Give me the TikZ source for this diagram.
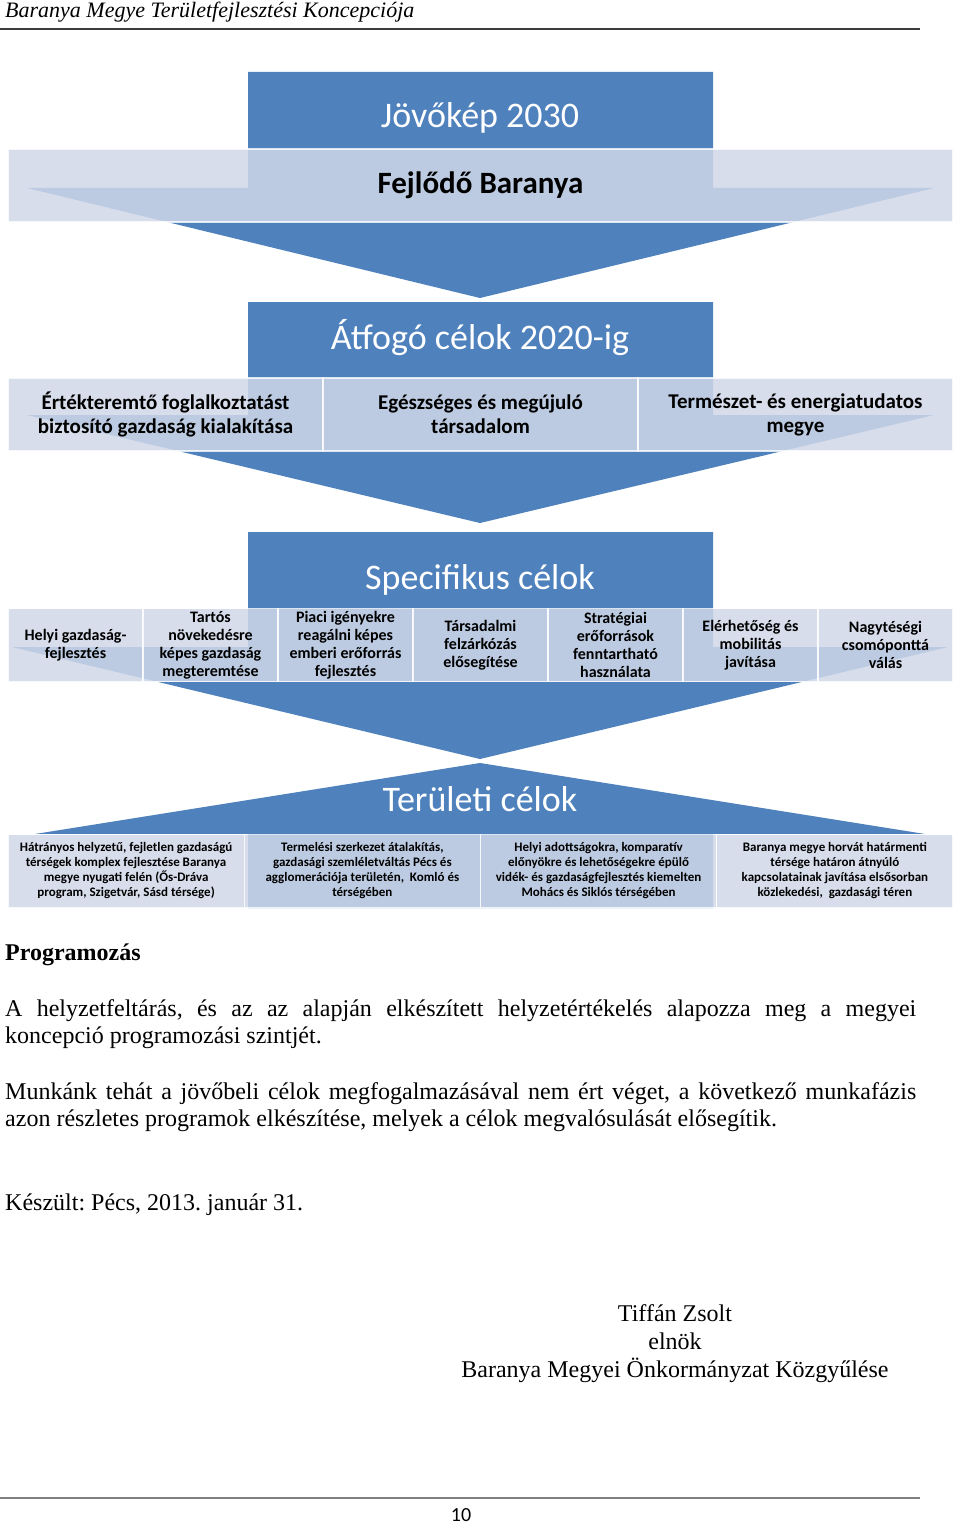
\documentclass[tikz,border=0pt]{standalone}
\usepackage{fontspec}
\setmainfont{Liberation Serif}
\newfontfamily\carl{Carlito}
\definecolor{dkblue}{RGB}{79,129,189}
\definecolor{bandc}{RGB}{208,216,232}
\definecolor{rulegray}{RGB}{60,60,60}
\frenchspacing
\begin{document}
\begin{tikzpicture}[x=1pt,y=-1pt,
  darkshape/.style={fill=dkblue,draw=none},
  cell/.style={fill=bandc,fill opacity=0.85,text opacity=1,draw=white,draw opacity=0.8,line width=1.2pt,inner sep=0pt,align=center,text=black},
  title/.style={text=white,font=\carl\fontsize{36}{40}\selectfont,inner sep=0pt},
  celltwo/.style={cell,font=\carl\bfseries\fontsize{21}{24}\selectfont},
  cellthree/.style={cell,font=\carl\bfseries\fontsize{16}{18}\selectfont,minimum width=135pt,minimum height=73pt},
  cellfour/.style={cell,font=\carl\bfseries\fontsize{13}{15}\selectfont,minimum width=236.25pt,minimum height=73pt},
  body/.style={inner sep=0pt,font=\fontsize{24}{27.5}\selectfont}
]
\useasboundingbox (0,0) rectangle (960,1525);
\fill[white] (0,0) rectangle (960,1525);

% header
\node[body,anchor=base west,font=\itshape\fontsize{22}{26}\selectfont] (hdr) at (5,18) {Baranya Megye Területfejlesztési Koncepciója};
\draw[rulegray,line width=1.3pt] (0,29) -- (920,29);

% level 1
\fill[darkshape] (248,72) -- (713,72) -- (713,188) -- (934,188) -- (480,298) -- (27,188) -- (248,188) -- cycle;
\node[title] (t1) at (480,118) {Jövőkép 2030};
\node[cell,minimum width=945pt,minimum height=73pt,font=\carl\bfseries\fontsize{31}{34}\selectfont] (b1) at (480.5,185.5) {Fejlődő Baranya};

% level 2
\fill[darkshape] (248,302) -- (713,302) -- (713,415) -- (934,415) -- (480,523) -- (27,415) -- (248,415) -- cycle;
\node[title] (t2) at (480,338) {Átfogó célok 2020-ig};
\node[celltwo,minimum width=315pt,minimum height=73pt] (c21) at (165.5,414.5) {Értékteremtő foglalkoztatást\\biztosító gazdaság kialakítása};
\node[celltwo,minimum width=315pt,minimum height=73pt] (c22) at (480.5,414.5) {Egészséges és megújuló\\társadalom};
\node[celltwo,minimum width=315pt,minimum height=73pt] (c23) at (795.5,414.5) {Természet- és energiatudatos\\megye};

% level 3
\fill[darkshape] (248,532) -- (713,532) -- (713,647) -- (948,647) -- (480,759) -- (12,647) -- (248,647) -- cycle;
\node[title] (t3) at (480,580) {Specifikus célok};
\node[cellthree] (c31) at (75.5,645) {Helyi gazdaság-\\fejlesztés};
\node[cellthree] (c32) at (210.5,645) {Tartós\\növekedésre\\képes gazdaság\\megteremtése};
\node[cellthree] (c33) at (345.5,645) {Piaci igényekre\\reagálni képes\\emberi erőforrás\\fejlesztés};
\node[cellthree] (c34) at (480.5,645) {Társadalmi\\felzárkózás\\elősegítése};
\node[cellthree] (c35) at (615.5,645) {Stratégiai\\erőforrások\\fenntartható\\használata};
\node[cellthree] (c36) at (750.5,645) {Elérhetőség és\\mobilitás\\javítása};
\node[cellthree] (c37) at (885.5,645) {Nagytéségi\\csomóponttá\\válás};

% level 4
\fill[darkshape] (480,763) -- (925,834) -- (713,834) -- (713,908) -- (248,908) -- (248,834) -- (35,834) -- cycle;
\node[title] (t4) at (480,799) {Területi célok};
\node[cellfour] (c41) at (126.1,871) {Hátrányos helyzetű, fejletlen gazdaságú\\térségek komplex fejlesztése Baranya\\megye nyugati felén (Ős-Dráva\\program, Szigetvár, Sásd térsége)};
\node[cellfour] (c42) at (362.4,871) {Termelési szerkezet átalakítás,\\gazdasági szemléletváltás Pécs és\\agglomerációja területén,~ Komló és\\térségében};
\node[cellfour] (c43) at (598.6,871) {Helyi adottságokra, komparatív\\előnyökre és lehetőségekre épülő\\vidék- és gazdaságfejlesztés kiemelten\\Mohács és Siklós térségében};
\node[cellfour] (c44) at (834.9,871) {Baranya megye horvát határmenti\\térsége határon átnyúló\\kapcsolatainak javítása elsősorban\\közlekedési,~ gazdasági téren};

% body text
\node[body,anchor=base west,font=\bfseries\fontsize{24}{27.5}\selectfont] (prog) at (5,960) {Programozás};
\node[body,anchor=base west,text width=911pt,align=justify] (p1) at (5,1016) {A helyzetfeltárás, és az az alapján elkészített helyzetértékelés alapozza meg a megyei\linebreak koncepció programozási szintjét.};
\node[body,anchor=base west,text width=911pt,align=justify] (p2) at (5,1099) {Munkánk tehát a jövőbeli célok megfogalmazásával nem ért véget, a következő munkafázis\linebreak azon részletes programok elkészítése, melyek a célok megvalósulását elősegítik.};
\node[body,anchor=base west] (date) at (5,1210) {Készült: Pécs, 2013. január 31.};
\node[body,anchor=base] (sig1) at (675,1321) {Tiffán Zsolt};
\node[body,anchor=base] (sig2) at (675,1349) {elnök};
\node[body,anchor=base] (sig3) at (675,1377) {Baranya Megyei Önkormányzat Közgyűlése};

% footer
\draw[gray,line width=2pt] (0,1498) -- (920,1498);
\node[inner sep=0pt,anchor=base,font=\carl\fontsize{20}{24}\selectfont] (pg) at (461,1521) {10};
\end{tikzpicture}
\end{document}
